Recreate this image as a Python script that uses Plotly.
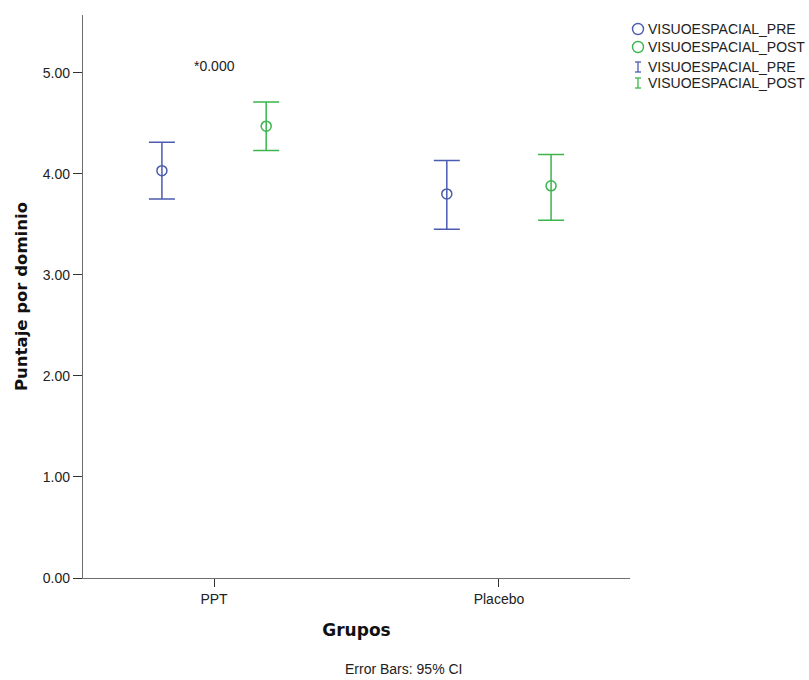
import plotly.graph_objects as go

groups = ["PPT", "Placebo"]
pre_mean = [4.03, 3.80]
pre_upper = [4.31, 4.13]
pre_lower = [3.75, 3.45]
post_mean = [4.47, 3.88]
post_upper = [4.71, 4.19]
post_lower = [4.23, 3.54]
y_ticks = [0, 1, 2, 3, 4, 5]
series_names = ["VISUOESPACIAL_PRE", "VISUOESPACIAL_POST"]

BLUE = "#4b5bb0"
GREEN = "#3bb54c"
SERIES_COLORS = [BLUE, GREEN]

W, H = 809, 680
L, T = 83, 15
R = W - 630
B = H - 578
PW, PH = W - L - R, H - T - B


def px_x(x):  # screen x -> paper
    return (x - L) / PW


def px_y(y):  # screen y -> paper
    return (H - B - y) / PH


fig = go.Figure()
for name, mean, up, lo, col in [
    (series_names[0], pre_mean, pre_upper, pre_lower, BLUE),
    (series_names[1], post_mean, post_upper, post_lower, GREEN),
]:
    fig.add_trace(go.Scatter(
        x=groups, y=mean, name=name, mode="markers",
        offsetgroup=name, showlegend=False,
        marker=dict(symbol="circle-open", size=10, color=col, line=dict(width=1.5, color=col)),
        error_y=dict(type="data", symmetric=False,
                     array=[u - m for u, m in zip(up, mean)],
                     arrayminus=[m - l for m, l in zip(mean, lo)],
                     color=col, thickness=1.5, width=13),
    ))

FONT = "Liberation Sans, Arial, sans-serif"
BOLD = "DejaVu Sans, sans-serif"
fig.update_layout(
    width=W, height=H,
    margin=dict(l=L, r=R, t=T, b=B),
    paper_bgcolor="white", plot_bgcolor="white",
    scattermode="group", scattergap=0.268,
    font=dict(family=FONT, size=14, color="#222"),
    xaxis=dict(type="category", range=[-0.46, 1.46], showgrid=False, zeroline=False,
               automargin=False,
               showline=True, linecolor="#6e6e6e", linewidth=1.3,
               ticks="outside", ticklen=8, tickcolor="#333", tickwidth=1.3,
               tickfont=dict(family=FONT, size=14, color="#222"),
               title=dict(text="<b>Grupos</b>", font=dict(family=BOLD, size=17, color="#111"), standoff=18)),
    yaxis=dict(range=[0, 5.57], tickvals=y_ticks, tickformat=".2f", showgrid=False, zeroline=False,
               automargin=False,
               showline=True, linecolor="#6e6e6e", linewidth=1.3,
               ticks="outside", ticklen=9, tickcolor="#333", tickwidth=1.3,
               tickfont=dict(family=FONT, size=14, color="#222"),
               title=dict(text="<b>Puntaje por dominio</b>", font=dict(family=BOLD, size=16.5, color="#111"), standoff=11)),
)

fig.add_annotation(x=groups[0], y=5.07, xref="x", yref="y", text="*0.000", showarrow=False,
                   font=dict(size=14, color="#222"))
fig.add_annotation(x=px_x(343), y=px_y(669), xref="paper", yref="paper", text="Error Bars: 95% CI",
                   showarrow=False, font=dict(size=14, color="#222"), xanchor="left", yanchor="middle")

# legend (manual, to mimic the SPSS legend)
rows_y = [29, 47, 67, 83]
glyph_x = 638
text_x = 646
for i, (ypx, col, name) in enumerate(zip(rows_y, SERIES_COLORS * 2, series_names * 2)):
    if i < 2:
        fig.add_shape(type="circle", xref="paper", yref="paper",
                      x0=px_x(glyph_x - 5.5), x1=px_x(glyph_x + 5.5),
                      y0=px_y(ypx + 5.5), y1=px_y(ypx - 5.5),
                      line=dict(color=col, width=1.4))
    else:
        for (xa, ya, xb, yb) in [(glyph_x, ypx - 5, glyph_x, ypx + 5),
                                 (glyph_x - 3, ypx - 5, glyph_x + 3, ypx - 5),
                                 (glyph_x - 3, ypx + 5, glyph_x + 3, ypx + 5)]:
            fig.add_shape(type="line", xref="paper", yref="paper",
                          x0=px_x(xa), x1=px_x(xb), y0=px_y(ya), y1=px_y(yb),
                          line=dict(color=col, width=1.3))
    fig.add_annotation(x=px_x(text_x), y=px_y(ypx), xref="paper", yref="paper",
                       xanchor="left", yanchor="middle", showarrow=False,
                       text=name, font=dict(size=14, color="#222"))

# remove the page's default body margin so the 809x680 figure fills the window exactly
fig.write_html("out.html", config={"displayModeBar": False},
               post_script="document.body.style.margin='0';document.body.style.overflow='hidden';")
